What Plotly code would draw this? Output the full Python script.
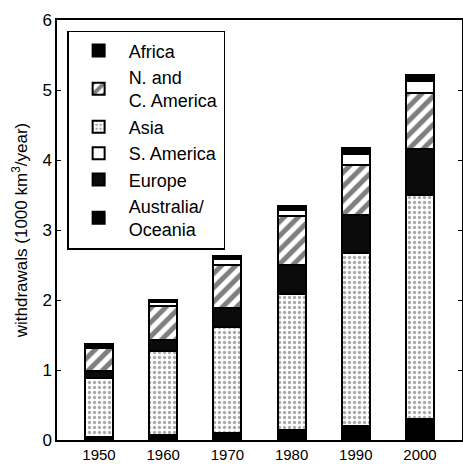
import plotly.graph_objects as go

years = [1950, 1960, 1970, 1980, 1990, 2000]
year_labels = ["1950", "1960", "1970", "1980", "1990", "2000"]
africa = [0.05, 0.07, 0.10, 0.14, 0.20, 0.30]
asia = [0.84, 1.20, 1.52, 1.94, 2.47, 3.20]
europe = [0.10, 0.16, 0.26, 0.42, 0.55, 0.66]
nc_america = [0.32, 0.49, 0.62, 0.70, 0.71, 0.80]
s_america = [0.04, 0.05, 0.09, 0.09, 0.16, 0.17]
australia = [0.02, 0.03, 0.04, 0.05, 0.08, 0.09]
y_ticks = [0, 1, 2, 3, 4, 5, 6]

FONT = "Liberation Sans, Arial, sans-serif"
line = dict(color="black", width=2)
bw = 4.36

# stacking order bottom -> top, legend order via legendrank
series = [
    ("Africa", africa, dict(color="black"), 1),
    ("Asia", asia, dict(color="white", pattern=dict(shape=".", fgcolor="#555", bgcolor="white", size=5, solidity=0.35)), 3),
    ("Europe", europe, dict(color="#0b0b0b"), 5),
    ("N. and<br>C. America", nc_america, dict(color="white", pattern=dict(shape="/", fgcolor="black", bgcolor="white", size=10, solidity=0.5)), 2),
    ("S. America", s_america, dict(color="white"), 4),
    ("Australia/<br>Oceania", australia, dict(color="black"), 6),
]

fig = go.Figure()
for name, vals, mk, rank in series:
    fig.add_trace(go.Bar(
        x=years, y=vals, name=name, width=bw,
        marker=dict(**mk, line=line),
        legendrank=rank,
    ))

fig.update_layout(
    barmode="stack",
    width=463, height=464,
    margin=dict(l=57, r=1, t=20, b=24),
    paper_bgcolor="white", plot_bgcolor="white",
    font=dict(family=FONT, size=16, color="black"),
    showlegend=True,
    legend=dict(
        x=0.025, y=0.974, xanchor="left", yanchor="top",
        bordercolor="black", borderwidth=1.5, bgcolor="white",
        font=dict(size=18, family=FONT), traceorder="normal",
        itemwidth=50,
    ),
    xaxis=dict(
        range=[1943.46, 2006.54], tickmode="array", tickvals=years, ticktext=year_labels,
        showline=True, linecolor="black", linewidth=1.5, mirror=True,
        showgrid=False, zeroline=False, ticks="", tickfont=dict(size=15),
        ticklabelstandoff=0, automargin=False,
    ),
    yaxis=dict(
        range=[0, 6], tickmode="array", tickvals=y_ticks,
        showline=True, linecolor="black", linewidth=1.5, mirror="ticks",
        ticks="inside", ticklen=4, tickcolor="black", automargin=False,
        showgrid=False, zeroline=False, tickfont=dict(size=17),
        title=dict(text="withdrawals (1000 km<sup>3</sup>/year)", font=dict(size=17), standoff=10),
    ),
)

fig.write_html("out.html")
